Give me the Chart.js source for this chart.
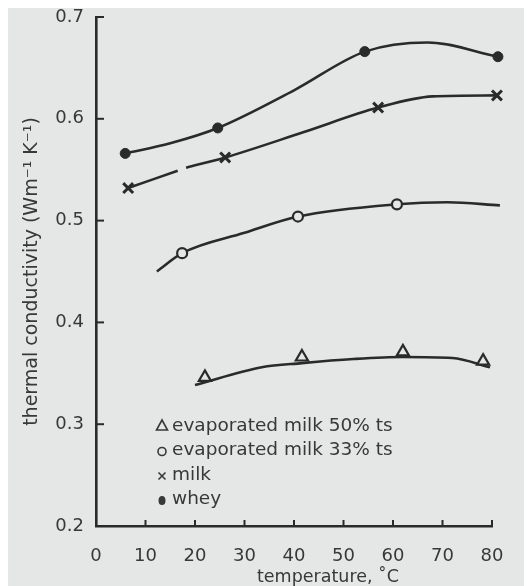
<!DOCTYPE html>
<html>
<head>
<meta charset="utf-8">
<script src="https://cdn.jsdelivr.net/npm/chart.js@4"></script>
<style>
  html, body { margin: 0; padding: 0; background: #fff; }
</style>
</head>
<body>
<canvas id="chart" width="527" height="586"></canvas>
<script>
// measured points: temperature (°C) and thermal conductivity (W m-1 K-1)
const wheyT = [5.9, 24.6, 54.3, 81.2];
const wheyK = [0.566, 0.591, 0.666, 0.661];
const milkT = [6.5, 26.1, 57.0, 81.0];
const milkK = [0.532, 0.562, 0.611, 0.623];
const evap33T = [17.4, 40.8, 60.8, 81.6];
const evap33K = [0.468, 0.504, 0.516, 0.515];
const evap50T = [22.0, 41.6, 62.0, 78.2];
const evap50K = [0.346, 0.366, 0.371, 0.362];

// hand-drawn smoothing curves through the points (null = break in the pen line)
const wheyFitT = [5.9, 15, 24.6, 40, 54.3, 67, 81.2];
const wheyFitK = [0.566, 0.576, 0.591, 0.628, 0.666, 0.675, 0.661];
const milkFitT = [6.5, 16.5, 17.3, 18.2, 26.1, 42, 57.0, 68, 81.0];
const milkFitK = [0.532, 0.549, null, 0.552, 0.562, 0.587, 0.611, 0.622, 0.623];
const evap33FitT = [12.3, 17.4, 30, 40.8, 60.8, 71, 81.6];
const evap33FitK = [0.450, 0.468, 0.488, 0.504, 0.516, 0.518, 0.515];
const evap50FitT = [20.0, 33.5, 41.6, 52, 62.0, 72, 79.6];
const evap50FitK = [0.3385, 0.356, 0.360, 0.364, 0.366, 0.365, 0.356];

const xTicks = [0, 10, 20, 30, 40, 50, 60, 70, 80];
const yTicks = [0.2, 0.3, 0.4, 0.5, 0.6, 0.7];

const legendItems = ['evaporated milk 50% ts', 'evaporated milk 33% ts', 'milk', 'whey'];
const legendMarks = ['triangle', 'circle', 'cross', 'dot'];
const xTitle = 'temperature, ˚C';
const yTitle = 'thermal conductivity (Wm⁻¹ K⁻¹)';

const INK = '#2a2a2a';
const TEXT = '#383838';
const PAPER = '#e4e7e6';
const FONT = '"DejaVu Sans", sans-serif';

const pts = (xs, ys) => xs.map((x, i) => ({ x, y: ys[i] }));

const curve = (xs, ys) => ({
  data: pts(xs, ys),
  showLine: true,
  borderColor: INK,
  borderWidth: 2.6,
  pointRadius: 0,
  cubicInterpolationMode: 'monotone',
  spanGaps: false,
  clip: false,
  order: 2
});

const marks = (xs, ys, style, fill, radius, bw) => ({
  data: pts(xs, ys),
  showLine: false,
  pointStyle: style,
  pointRadius: radius,
  pointBackgroundColor: fill,
  pointBorderColor: INK,
  pointBorderWidth: bw,
  clip: false,
  order: 1
});

// paper, inward tick marks, legend block and x title
const paperPlugin = {
  id: 'paper',
  beforeDraw(chart) {
    const { ctx, width, height } = chart;
    ctx.save();
    ctx.fillStyle = '#fff';
    ctx.fillRect(0, 0, width, height);
    ctx.fillStyle = PAPER;
    ctx.fillRect(8, 8, 516, height - 8);
    ctx.restore();
  },
  afterDraw(chart) {
    const { ctx, scales: { x, y }, chartArea: a } = chart;
    ctx.save();
    ctx.strokeStyle = INK;
    ctx.lineWidth = 2;
    xTicks.slice(1).forEach(v => {
      const px = x.getPixelForValue(v);
      ctx.beginPath(); ctx.moveTo(px, a.bottom); ctx.lineTo(px, a.bottom - 6); ctx.stroke();
    });
    yTicks.slice(1).forEach(v => {
      const py = y.getPixelForValue(v);
      ctx.beginPath(); ctx.moveTo(a.left, py); ctx.lineTo(a.left + 8, py); ctx.stroke();
    });

    // legend
    ctx.font = '18.5px ' + FONT;
    ctx.fillStyle = TEXT;
    ctx.textBaseline = 'middle';
    legendItems.forEach((label, i) => {
      const cy = 426 + i * 24.5;
      const cx = 162;
      ctx.lineWidth = 1.6;
      ctx.strokeStyle = TEXT;
      ctx.beginPath();
      if (legendMarks[i] === 'triangle') {
        ctx.moveTo(cx, cy - 6); ctx.lineTo(cx + 5.5, cy + 4); ctx.lineTo(cx - 5.5, cy + 4); ctx.closePath(); ctx.stroke();
      } else if (legendMarks[i] === 'circle') {
        ctx.arc(cx, cy + 1, 4, 0, Math.PI * 2); ctx.stroke();
      } else if (legendMarks[i] === 'cross') {
        ctx.moveTo(cx - 3.5, cy - 2.5); ctx.lineTo(cx + 3.5, cy + 4.5);
        ctx.moveTo(cx + 3.5, cy - 2.5); ctx.lineTo(cx - 3.5, cy + 4.5); ctx.stroke();
      } else {
        ctx.ellipse(cx, cy + 1, 3.5, 4.5, 0, 0, Math.PI * 2); ctx.fill();
      }
      ctx.fillText(label, 172, cy);
    });

    ctx.font = '17.5px ' + FONT;
    ctx.textAlign = 'center';
    ctx.fillText(xTitle, 328, 577);
    ctx.restore();
  }
};

new Chart(document.getElementById('chart'), {
  type: 'scatter',
  data: {
    datasets: [
      curve(wheyFitT, wheyFitK),
      curve(milkFitT, milkFitK),
      curve(evap33FitT, evap33FitK),
      curve(evap50FitT, evap50FitK),
      marks(wheyT, wheyK, 'circle', INK, 5, 1),
      marks(milkT, milkK, 'crossRot', INK, 7, 3),
      marks(evap33T, evap33K, 'circle', PAPER, 5, 2.2),
      marks(evap50T, evap50K, 'triangle', PAPER, 7, 2.2)
    ]
  },
  options: {
    responsive: false,
    animation: false,
    layout: { padding: { left: 8, top: 17, right: 35, bottom: 0 } },
    plugins: { legend: { display: false }, tooltip: { enabled: false } },
    scales: {
      x: {
        type: 'linear',
        min: 0, max: 80,
        afterFit: s => { s.height = 60; },
        afterBuildTicks: s => { s.ticks = xTicks.map(v => ({ value: v })); },
        grid: { display: false },
        border: { display: true, color: INK, width: 2.6 },
        ticks: { color: TEXT, font: { family: FONT, size: 18 }, padding: 12, maxRotation: 0 }
      },
      y: {
        type: 'linear',
        min: 0.2, max: 0.7,
        afterFit: s => { s.width = 88; },
        afterBuildTicks: s => { s.ticks = yTicks.map(v => ({ value: v })); },
        grid: { display: false },
        border: { display: true, color: INK, width: 2.6 },
        ticks: { color: TEXT, font: { family: FONT, size: 18 }, padding: 4, callback: v => v.toFixed(1) },
        title: {
          display: true,
          text: yTitle,
          color: TEXT,
          font: { family: FONT, size: 19 },
          padding: { top: 13, bottom: 0 }
        }
      }
    }
  },
  plugins: [paperPlugin]
});
</script>
</body>
</html>
